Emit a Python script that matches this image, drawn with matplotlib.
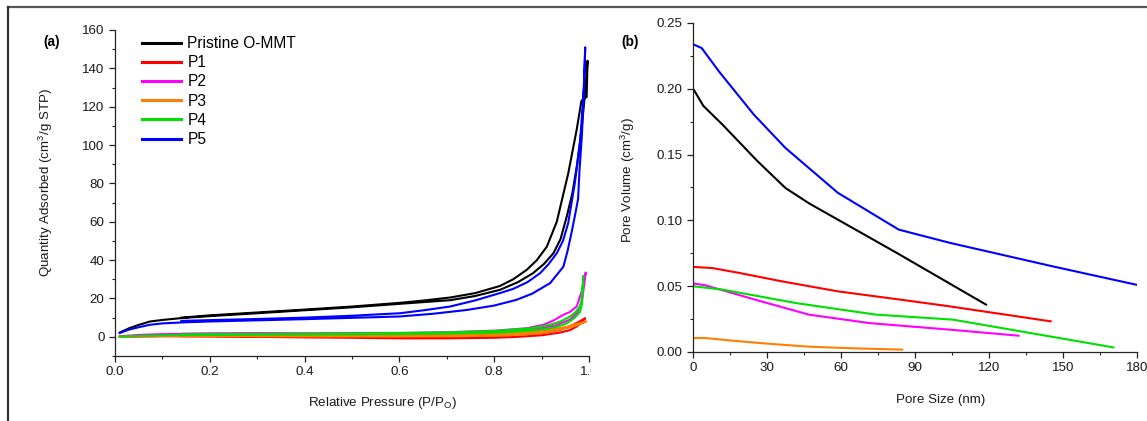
import matplotlib
matplotlib.use("Agg")
import matplotlib.pyplot as plt
from matplotlib.ticker import MultipleLocator, FormatStrFormatter
from matplotlib.lines import Line2D
from matplotlib.patches import Rectangle

plt.rcParams['font.family'] = ['Liberation Sans', 'DejaVu Sans']
plt.rcParams['mathtext.default'] = 'regular'

# ---------------- Panel (a): N2 isotherms (adsorption then desorption) ----------------
series_names = ["Pristine O-MMT", "P1", "P2", "P3", "P4", "P5"]
series_colors = ["#000000", "#ff0000", "#ff00ff", "#ff8000", "#00e000", "#0000ff"]

omm_p = [0.01, 0.03, 0.05, 0.074, 0.1, 0.137, 0.2, 0.3, 0.39, 0.5, 0.6, 0.707, 0.76, 0.812,
         0.85, 0.882, 0.905, 0.925, 0.94, 0.953, 0.965, 0.975, 0.985, 0.992, 0.997,
         0.995, 0.99, 0.984, 0.974, 0.956, 0.932, 0.911, 0.89, 0.869, 0.84, 0.812, 0.76,
         0.707, 0.65, 0.6, 0.5, 0.4, 0.3, 0.2, 0.14]
omm_q = [2.2, 4.5, 6.2, 8.0, 8.8, 9.7, 10.8, 12.3, 13.7, 15.4, 17.2, 19.1, 21.3, 24.5,
         28.5, 33.2, 38.0, 43.6, 51.0, 62.7, 75.0, 90.0, 110.0, 128.0, 144.0,
         125.0, 124.5, 123.0, 108.0, 85.0, 60.0, 47.0, 40.0, 35.0, 30.0, 26.5, 22.8,
         20.5, 18.9, 17.7, 15.8, 14.2, 12.7, 11.2, 10.0]

p1_p = [0.01, 0.1, 0.2, 0.3, 0.4, 0.5, 0.6, 0.7, 0.8, 0.85, 0.9, 0.939, 0.96, 0.975, 0.985, 0.992,
        0.98, 0.96, 0.939, 0.9, 0.85, 0.8, 0.7, 0.6, 0.5, 0.4, 0.3, 0.2, 0.14]
p1_q = [0.0, 0.3, 0.2, 0.0, -0.3, -0.5, -0.8, -0.8, -0.5, 0.0, 0.8, 2.2, 3.5, 5.5, 7.5, 9.7,
        8.0, 5.5, 3.6, 2.0, 1.2, 0.7, 0.3, 0.1, 0.1, 0.2, 0.3, 0.4, 0.4]

p2_p = [0.01, 0.05, 0.1, 0.2, 0.3, 0.4, 0.5, 0.6, 0.7, 0.8, 0.85, 0.9, 0.93, 0.96, 0.975, 0.985, 0.993,
        0.985, 0.974, 0.96, 0.946, 0.925, 0.904, 0.87, 0.8, 0.7, 0.6, 0.5, 0.4, 0.3, 0.2, 0.14]
p2_q = [0.3, 1.0, 1.4, 1.6, 1.6, 1.5, 1.5, 1.6, 1.8, 2.3, 3.0, 4.5, 6.0, 9.0, 12.5, 18.0, 33.5,
        24.0, 15.8, 13.0, 11.5, 8.5, 6.3, 4.5, 3.2, 2.4, 2.0, 1.9, 1.8, 1.8, 1.7, 1.6]

p3_p = [0.01, 0.1, 0.2, 0.3, 0.4, 0.5, 0.6, 0.7, 0.8, 0.85, 0.9, 0.953, 0.975, 0.994,
        0.975, 0.953, 0.92, 0.88, 0.8, 0.7, 0.6, 0.5, 0.4, 0.3, 0.2, 0.14]
p3_q = [0.0, 0.4, 0.4, 0.3, 0.2, 0.2, 0.2, 0.3, 0.6, 1.0, 2.0, 4.5, 6.0, 8.0,
        6.8, 5.2, 3.8, 2.6, 1.5, 1.0, 0.8, 0.7, 0.6, 0.6, 0.5, 0.5]

p4_p = [0.01, 0.05, 0.1, 0.2, 0.3, 0.4, 0.5, 0.6, 0.7, 0.8, 0.85, 0.9, 0.93, 0.953, 0.97, 0.981,
        0.985, 0.988, 0.985, 0.981, 0.97, 0.96, 0.94, 0.918, 0.88, 0.8, 0.7, 0.6, 0.5, 0.4,
        0.3, 0.2, 0.14]
p4_q = [0.1, 0.5, 0.8, 1.0, 1.1, 1.2, 1.3, 1.5, 1.7, 2.2, 2.8, 3.8, 5.0, 7.0, 10.0, 13.0,
        17.0, 31.8, 20.0, 15.8, 12.5, 10.6, 8.0, 6.3, 4.5, 3.0, 2.3, 2.0, 1.8, 1.6,
        1.5, 1.4, 1.3]

p5_p = [0.01, 0.03, 0.05, 0.074, 0.1, 0.15, 0.2, 0.3, 0.4, 0.5, 0.6, 0.67, 0.742, 0.8, 0.847,
        0.88, 0.918, 0.946, 0.955, 0.962, 0.97, 0.977, 0.98, 0.985, 0.988, 0.991, 0.992,
        0.989, 0.985, 0.981, 0.97, 0.956, 0.945, 0.932, 0.915, 0.897, 0.87, 0.84, 0.812,
        0.76, 0.707, 0.65, 0.601, 0.5, 0.4, 0.3, 0.2, 0.14]
p5_q = [2.0, 3.8, 5.0, 6.3, 7.0, 7.6, 8.0, 8.6, 9.2, 9.9, 10.6, 12.0, 14.0, 16.3, 19.3,
        22.5, 28.0, 36.6, 45.0, 53.0, 62.7, 72.0, 87.0, 105.0, 121.8, 140.0, 151.0,
        130.0, 115.0, 101.0, 80.0, 59.2, 50.0, 43.6, 38.0, 33.2, 28.5, 25.0, 22.8,
        19.0, 15.8, 13.8, 12.3, 11.0, 10.0, 9.3, 8.7, 8.3]

iso_p = [omm_p, p1_p, p2_p, p3_p, p4_p, p5_p]
iso_q = [omm_q, p1_q, p2_q, p3_q, p4_q, p5_q]

# ---------------- Panel (b): pore volume vs pore size ----------------
omm_x = [0.4, 4.2, 12, 26.2, 37.5, 47, 82.7, 118.8]
omm_v = [0.199, 0.187, 0.1727, 0.1449, 0.1246, 0.113, 0.0752, 0.036]
p1_x = [0.4, 7.8, 19, 36, 58.7, 84, 104, 145]
p1_v = [0.0646, 0.0638, 0.060, 0.0537, 0.0461, 0.0398, 0.0347, 0.0233]
p2_x = [0.7, 5, 27.6, 47, 71.4, 104, 132]
p2_v = [0.0519, 0.0507, 0.0385, 0.0284, 0.022, 0.017, 0.0124]
p3_x = [0.4, 5, 15, 30.4, 47.4, 65, 84.8]
p3_v = [0.0106, 0.0106, 0.0088, 0.0063, 0.0040, 0.0028, 0.0018]
p4_x = [0.4, 12, 41.7, 74.2, 105.4, 170.4]
p4_v = [0.0499, 0.0474, 0.0372, 0.0284, 0.0246, 0.0035]
p5_x = [0.4, 3.5, 10.6, 24.7, 37.5, 58.7, 83.4, 104, 146, 180]
p5_v = [0.2335, 0.231, 0.213, 0.1803, 0.155, 0.121, 0.093, 0.083, 0.065, 0.051]

pore_x = [omm_x, p1_x, p2_x, p3_x, p4_x, p5_x]
pore_v = [omm_v, p1_v, p2_v, p3_v, p4_v, p5_v]

W, H = 1147, 421
TICK_FS = 9.6
LABEL_FS = 9.6
fig = plt.figure(figsize=(W / 100, H / 100), dpi=100)

def style_axes(ax):
    for s in ("top", "right"):
        ax.spines[s].set_visible(False)
    for s in ("left", "bottom"):
        ax.spines[s].set_linewidth(0.9)
        ax.spines[s].set_color("#222222")
    ax.tick_params(which="major", direction="out", length=4.5, width=0.9,
                   labelsize=TICK_FS, pad=3, colors="#222222")
    ax.tick_params(which="minor", direction="out", length=2.5, width=0.8, colors="#222222")
    ax.tick_params(axis="both", labelcolor="#1a1a1a")

# Left axes
axa = fig.add_axes([115 / W, (H - 356) / H, 474 / W, 326 / H])
for p, q, c, n in zip(iso_p, iso_q, series_colors, series_names):
    axa.plot(p, q, color=c, lw=1.5, label=n, solid_joinstyle="round")
axa.set_xlim(0, 1.0)
axa.set_ylim(-10, 160)
axa.xaxis.set_major_locator(MultipleLocator(0.2))
axa.xaxis.set_minor_locator(MultipleLocator(0.1))
axa.yaxis.set_major_locator(MultipleLocator(20))
axa.yaxis.set_minor_locator(MultipleLocator(10))
axa.xaxis.set_major_formatter(FormatStrFormatter("%.1f"))
style_axes(axa)
axa.set_xlabel("Relative Pressure (P/P$_O$)", fontsize=LABEL_FS, color="#1a1a1a")
axa.xaxis.set_label_coords((382 - 115) / 474, (356 - 403) / 326)
axa.xaxis.label.set_va("center")
axa.set_ylabel("Quantity Adsorbed (cm$^3$/g STP)", fontsize=LABEL_FS, color="#1a1a1a")
axa.yaxis.set_label_coords((46 - 115) / 474, (356 - 182) / 326)
axa.yaxis.label.set_va("center")
leg = axa.legend(loc="upper left", bbox_to_anchor=((142 - 115) / 474, (356 - 36) / 326),
                 frameon=False, fontsize=11.2, borderpad=0, borderaxespad=0,
                 handlelength=2.5, handletextpad=0.42, labelspacing=0.27)
for line in leg.get_lines():
    line.set_linewidth(2.2)
fig.text(52 / W, 1 - 42 / H, "(a)", fontsize=9.8, fontweight="bold", ha="center", va="center")

# Right axes
axb = fig.add_axes([693 / W, (H - 352) / H, 444 / W, 329 / H])
for x, v, c, n in zip(pore_x, pore_v, series_colors, series_names):
    axb.plot(x, v, color=c, lw=1.5, label=n, solid_joinstyle="round")
axb.set_xlim(0, 180)
axb.set_ylim(0, 0.25)
axb.xaxis.set_major_locator(MultipleLocator(30))
axb.xaxis.set_minor_locator(MultipleLocator(15))
axb.yaxis.set_major_locator(MultipleLocator(0.05))
axb.yaxis.set_minor_locator(MultipleLocator(0.025))
axb.yaxis.set_major_formatter(FormatStrFormatter("%.2f"))
style_axes(axb)
axb.set_xlabel("Pore Size (nm)", fontsize=LABEL_FS, color="#1a1a1a")
axb.xaxis.set_label_coords((941 - 693) / 444, (352 - 400) / 329)
axb.xaxis.label.set_va("center")
axb.set_ylabel("Pore Volume (cm$^3$/g)", fontsize=LABEL_FS, color="#1a1a1a")
axb.yaxis.set_label_coords((628 - 693) / 444, (352 - 180) / 329)
axb.yaxis.label.set_va("center")
fig.text(630 / W, 1 - 42 / H, "(b)", fontsize=9.8, fontweight="bold", ha="center", va="center")

# Clip the right part of the "1.0" label as in the reference (panel overlap)
fig.patches.append(Rectangle((591 / W, (H - 385) / H), 40 / W, 25 / H,
                             transform=fig.transFigure, facecolor="white",
                             edgecolor="none", zorder=10))

# Figure frame lines (top and left border)
fig.lines.append(Line2D([8 / W, 1.0], [1 - 7 / H, 1 - 7 / H], transform=fig.transFigure,
                        color="#555555", lw=1.6))
fig.lines.append(Line2D([8 / W, 8 / W], [0, 1 - 7 / H], transform=fig.transFigure,
                        color="#333333", lw=1.6))

fig.savefig("out.png", dpi=100)
